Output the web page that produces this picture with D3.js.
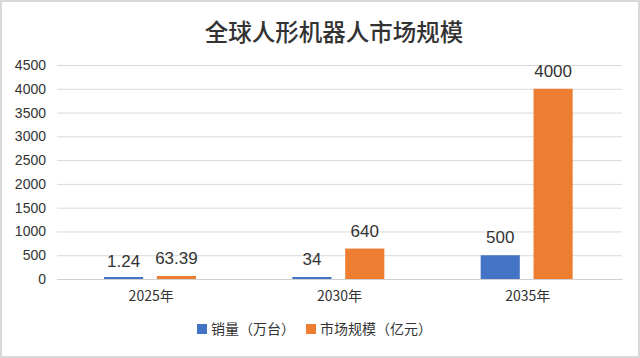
<!DOCTYPE html>
<html><head><meta charset="utf-8">
<script src="https://cdn.jsdelivr.net/npm/d3@7"></script>
<style>body{margin:0;background:#fff}svg{display:block}</style>
</head><body><svg id="c" width="640" height="358"></svg>
<script>
const categories = ["2025年", "2030年", "2035年"];
const seriesNames = ["销量（万台）", "市场规模（亿元）"];
const sales = [1.24, 34, 500];
const market = [63.39, 640, 4000];
const salesLabels = ["1.24", "34", "500"];
const marketLabels = ["63.39", "640", "4000"];
const yTicks = [0, 500, 1000, 1500, 2000, 2500, 3000, 3500, 4000, 4500];
const colors = ["#4472C4", "#ED7D31"];

const svg = d3.select("#c");
const font = "'Noto Sans CJK SC', 'Liberation Sans', sans-serif";
const latin = "'Liberation Sans', Arial, sans-serif";
svg.append("rect").attr("x",1).attr("y",1).attr("width",638).attr("height",356)
  .attr("fill","#fff").attr("stroke","#d9d9d9").attr("stroke-width",2);

const x0 = d3.scaleBand().domain(categories).range([57, 622]);
const x1 = d3.scaleBand().domain([0,1]).range([47, 139]).paddingInner(0.26);
const y = d3.scaleLinear().domain([0, 4500]).range([279, 65]);

const yAxis = d3.axisLeft(y).tickValues(yTicks).tickFormat(d3.format("d")).tickSize(-(622-57)).tickPadding(11);
const gy = svg.append("g").attr("transform","translate(57,0)").call(yAxis);
gy.select(".domain").remove();
gy.selectAll(".tick line").attr("stroke","#d9d9d9").attr("stroke-width",1);
gy.selectAll(".tick text").attr("fill","#333").attr("font-size",14).attr("font-family",latin);

const xAxis = d3.axisBottom(x0).tickSize(0).tickPadding(12);
const gx = svg.append("g").attr("transform","translate(0,279)").call(xAxis);
gx.select(".domain").attr("stroke","#d0d0d0");
gx.selectAll(".tick text").attr("fill","#333").attr("font-size",14).attr("font-family",font);

const series = [sales, market];
const labels = [salesLabels, marketLabels];
series.forEach((vals, si) => {
  const g = svg.append("g");
  g.selectAll("rect").data(vals).join("rect")
    .attr("x", (d,i) => x0(categories[i]) + x1(si))
    .attr("width", x1.bandwidth())
    .attr("y", d => Math.min(y(d), y(0) - 2))
    .attr("height", d => Math.max(y(0) - y(d), 2))
    .attr("fill", colors[si]);
  g.selectAll("text").data(vals).join("text")
    .attr("x", (d,i) => x0(categories[i]) + x1(si) + x1.bandwidth()/2)
    .attr("y", d => y(d) - 12)
    .attr("text-anchor","middle")
    .attr("font-size",17)
    .attr("fill","#333")
    .attr("font-family",latin)
    .text((d,i) => labels[si][i]);
});

svg.append("text").attr("x",334).attr("y",41).attr("text-anchor","middle")
  .attr("font-size",23.5).attr("font-weight",500).attr("fill","#333")
  .attr("font-family",font).text("全球人形机器人市场规模");

const leg = svg.append("g");
const legX = [197, 306];
seriesNames.forEach((n, i) => {
  leg.append("rect").attr("x",legX[i]).attr("y",324).attr("width",10).attr("height",10).attr("fill",colors[i]);
  leg.append("text").attr("x",legX[i]+14).attr("y",334).attr("font-size",14).attr("fill","#333")
    .attr("font-family",font).text(n);
});
</script></body></html>
